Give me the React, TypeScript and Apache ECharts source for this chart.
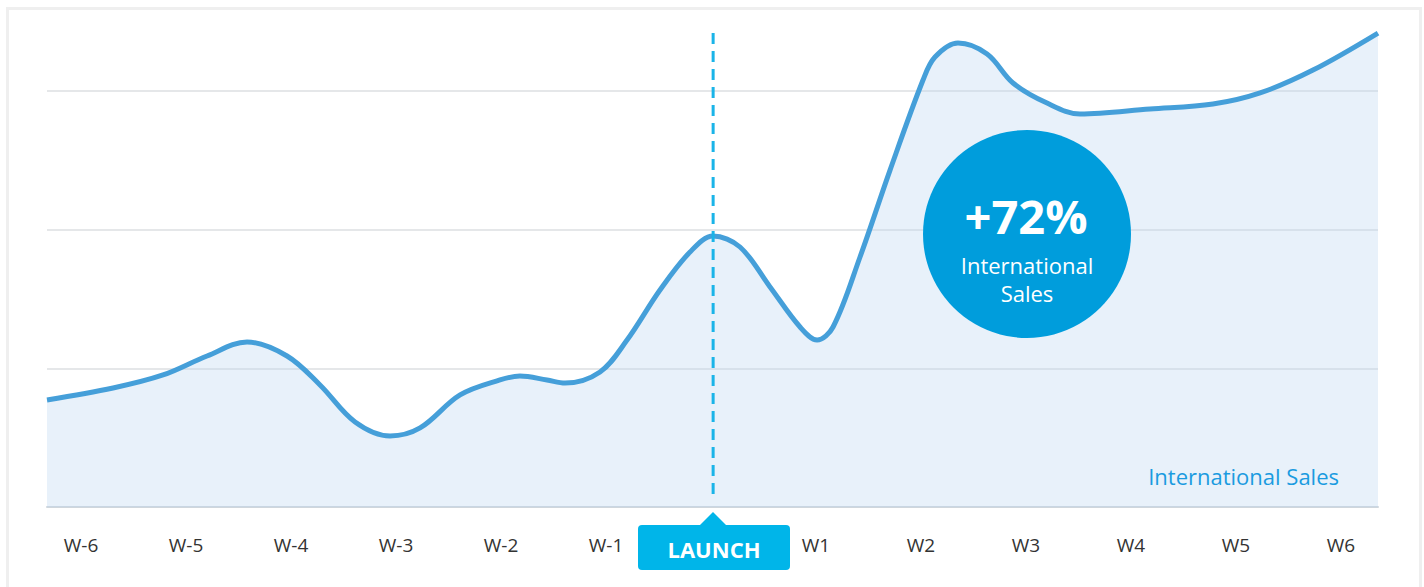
import React, { useEffect, useRef } from "react";
import * as echarts from "echarts";

// Axis labels (week index 0..12, LAUNCH drawn as a badge at index 6)
const weekLabels = ["W-6", "W-5", "W-4", "W-3", "W-2", "W-1", "", "W1", "W2", "W3", "W4", "W5", "W6"];

// Sales curve: x in week units (0 = W-6), y in chart units
const salesX = [
  -0.324, 0.305, 0.781, 1.2, 1.581, 1.962, 2.276, 2.61, 2.943, 3.229, 3.61, 3.99, 4.18, 4.438,
  4.61, 4.943, 5.2, 5.514, 5.8, 6.019, 6.276, 6.562, 6.848, 7.01, 7.162, 7.419, 7.705, 8.019,
  8.133, 8.352, 8.629, 8.876, 9.2, 9.514, 10.18, 10.78, 11.229, 11.733, 12.352,
];
const salesY = [
  77.2, 85.8, 95.2, 108.9, 119.0, 108.9, 88.0, 61.3, 51.2, 57.0, 80.8, 91.6, 94.5, 91.6,
  89.4, 97.4, 120.4, 156.5, 183.9, 195.4, 187.5, 158.7, 129.8, 120.4, 129.8, 180.3, 243.0, 307.9,
  324.5, 334.6, 326.7, 305.8, 291.3, 283.4, 287.0, 290.6, 298.6, 315.1, 341.8,
];

const X_MIN = -0.324;
const X_MAX = 12.352;
const LAUNCH_X = 6.02;
const LAUNCH_TOP = 341.8;
const LAUNCH_BOTTOM = 5;
const growthText = "+72%";
const seriesName = "International Sales";

const FONT = "'Open Sans', 'Noto Sans', sans-serif";

export default function App() {
  const ref = useRef<HTMLDivElement>(null);

  useEffect(() => {
    if (!ref.current) return;
    const chart = echarts.init(ref.current, null, { renderer: "svg" });
    const data = salesX.map((x, i) => [x, salesY[i]]);

    const baseGraphics: any[] = [
      {
        id: "frame",
        type: "rect",
        left: 5,
        top: 6,
        shape: { width: 1413, height: 620 },
        style: { fill: "none", stroke: "#efefef", lineWidth: 3 },
        silent: true,
        z: 0,
      },
      {
        id: "seriesLabel",
        type: "text",
        x: 1339,
        y: 476,
        style: {
          text: seriesName,
          fill: "#1a9be0",
          font: `22px ${FONT}`,
          textAlign: "right",
          textVerticalAlign: "middle",
        },
        z: 10,
      },
      {
        id: "bubble",
        type: "circle",
        shape: { cx: 1027, cy: 234, r: 104 },
        style: { fill: "#009ddc" },
        z: 10,
      },
      {
        id: "growth",
        type: "text",
        x: 1026,
        y: 216,
        style: {
          text: growthText,
          fill: "#ffffff",
          font: `bold 47px ${FONT}`,
          textAlign: "center",
          textVerticalAlign: "middle",
        },
        z: 11,
      },
      {
        id: "bubbleL1",
        type: "text",
        x: 1027,
        y: 265,
        style: {
          text: "International",
          fill: "#ffffff",
          font: `22px ${FONT}`,
          textAlign: "center",
          textVerticalAlign: "middle",
        },
        z: 11,
      },
      {
        id: "bubbleL2",
        type: "text",
        x: 1027,
        y: 293,
        style: {
          text: "Sales",
          fill: "#ffffff",
          font: `22px ${FONT}`,
          textAlign: "center",
          textVerticalAlign: "middle",
        },
        z: 11,
      },
      {
        id: "badge",
        type: "rect",
        shape: { x: 638, y: 525, width: 152, height: 45, r: 4 },
        style: { fill: "#00b5e9" },
        z: 10,
      },
      {
        id: "badgeTip",
        type: "polygon",
        shape: { points: [[699, 526], [713, 512], [727, 526]] },
        style: { fill: "#00b5e9" },
        z: 10,
      },
      {
        id: "badgeText",
        type: "text",
        x: 714,
        y: 549,
        style: {
          text: "LAUNCH",
          fill: "#ffffff",
          font: `bold 22px ${FONT}`,
          textAlign: "center",
          textVerticalAlign: "middle",
        },
        z: 11,
      },
    ];

    chart.setOption({
      animation: false,
      backgroundColor: "#ffffff",
      grid: [
        { left: 47, right: 46, top: 91, bottom: 80 },
        { left: 81, right: 83, top: 91, bottom: 80 },
      ],
      xAxis: [
        {
          type: "value",
          gridIndex: 0,
          min: X_MIN,
          max: X_MAX,
          axisLine: { show: true, lineStyle: { color: "#cfd6dc", width: 2 } },
          axisTick: { show: false },
          axisLabel: { show: false },
          splitLine: { show: false },
        },
        {
          type: "category",
          gridIndex: 1,
          data: weekLabels,
          boundaryGap: false,
          axisLine: { show: false },
          axisTick: { show: false },
          splitLine: { show: false },
          axisLabel: {
            interval: 0,
            margin: 28,
            color: "#333333",
            fontFamily: FONT,
            fontSize: 19,
          },
        },
      ],
      yAxis: [
        {
          type: "value",
          gridIndex: 0,
          min: 0,
          max: 300,
          interval: 100,
          axisLine: { show: false },
          axisTick: { show: false },
          axisLabel: { show: false },
          splitLine: { show: true, lineStyle: { color: "#dcdfe2", width: 1.5 } },
        },
        { type: "value", gridIndex: 1, show: false, min: 0, max: 300 },
      ],
      series: [
        {
          name: seriesName,
          type: "line",
          xAxisIndex: 0,
          yAxisIndex: 0,
          data,
          smooth: 0.35,
          clip: false,
          showSymbol: false,
          symbol: "none",
          lineStyle: { color: "#459fd9", width: 5 },
          areaStyle: { color: "rgba(190,216,240,0.5)", origin: "start" },
        },
      ],
      graphic: baseGraphics,
    });

    // Launch marker: a dashed vertical line placed through the chart's own scales
    const top = chart.convertToPixel({ xAxisIndex: 0, yAxisIndex: 0 }, [LAUNCH_X, LAUNCH_TOP]) as number[];
    const bottom = chart.convertToPixel({ xAxisIndex: 0, yAxisIndex: 0 }, [LAUNCH_X, LAUNCH_BOTTOM]) as number[];
    chart.setOption({
      graphic: [
        ...baseGraphics,
        {
          id: "launchLine",
          type: "line",
          shape: { x1: top[0], y1: top[1], x2: bottom[0], y2: bottom[1] },
          style: { stroke: "#1ab4e8", lineWidth: 3, lineDash: [11, 7] },
          silent: true,
          z: 5,
        },
      ],
    });

    return () => chart.dispose();
  }, []);

  return (
    <div
      ref={ref}
      style={{ position: "fixed", left: 0, top: 0, width: 1424, height: 587 }}
    />
  );
}
